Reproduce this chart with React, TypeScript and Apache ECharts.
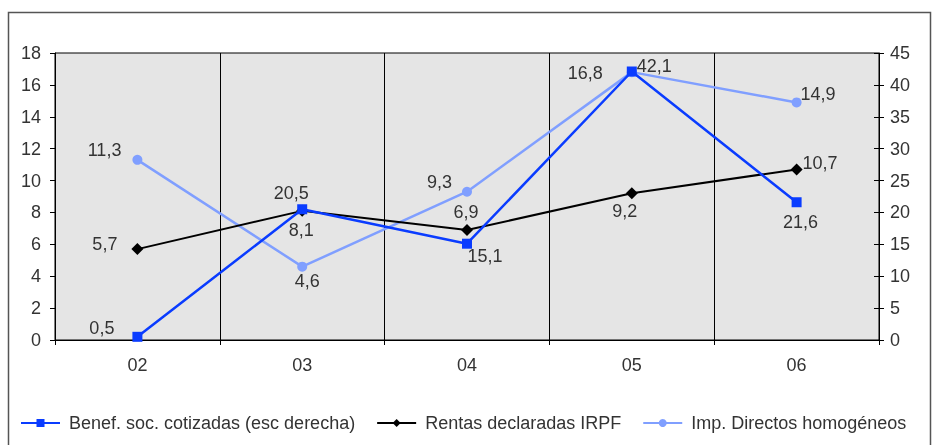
import React, { useEffect, useRef } from "react";
import * as echarts from "echarts";

const categories = ["02", "03", "04", "05", "06"];
const benefValues = [0.5, 20.5, 15.1, 42.1, 21.6];
const rentasValues = [5.7, 8.1, 6.9, 9.2, 10.7];
const impValues = [11.3, 4.6, 9.3, 16.8, 14.9];
const seriesNames = [
  "Benef. soc. cotizadas (esc derecha)",
  "Rentas declaradas IRPF",
  "Imp. Directos homogéneos",
];

// label placement per point: [position, offsetX, offsetY]
const benefLabelPos: [string, number, number][] = [
  ["left", -12, -9],
  ["top", -11, 4],
  ["bottom", 18, -8],
  ["right", -6, -5],
  ["bottom", 4, 0],
];
const rentasLabelPos: [string, number, number][] = [
  ["left", -8, -5],
  ["bottom", -1, -2],
  ["top", -1, 3],
  ["bottom", -7, -3],
  ["right", -6, -6],
];
const impLabelPos: [string, number, number][] = [
  ["left", -5, -10],
  ["bottom", 5, -6],
  ["left", -4, -10],
  ["left", -18, 1],
  ["right", -7, -8],
];

const FONT = "'Liberation Sans', Arial, sans-serif";
const TXT = "#333";
const FS = 18;

const fmt = (v: number) => v.toFixed(1).replace(".", ",");

function buildData(values: number[], pos: [string, number, number][]) {
  return values.map((v, i) => ({
    value: v,
    label: {
      position: pos[i][0],
      offset: [pos[i][1], pos[i][2]],
    },
  }));
}

export default function App() {
  const ref = useRef<HTMLDivElement>(null);
  useEffect(() => {
    if (!ref.current) return;
    const chart = echarts.init(ref.current, undefined, { renderer: "svg" });
    const labelBase = {
      show: true,
      fontSize: FS,
      fontFamily: FONT,
      color: TXT,
      distance: 6,
      formatter: (p: any) => fmt(p.value),
    };
    const axisLabelBase = { fontSize: FS, color: TXT, fontFamily: FONT };
    chart.setOption({
      animation: false,
      textStyle: { fontFamily: FONT },
      graphic: [
        {
          type: "rect",
          shape: { x: 8.5, y: 12.5, width: 922, height: 450 },
          style: { fill: "none", stroke: "#555", lineWidth: 1.5 },
          silent: true,
        },
      ],
      grid: {
        left: 55,
        right: 53,
        top: 53,
        bottom: 105,
        show: true,
        backgroundColor: "#e5e5e5",
        borderColor: "#000",
        borderWidth: 1,
        containLabel: false,
      },
      legend: {
        left: 15,
        top: 409,
        itemWidth: 39,
        itemHeight: 10,
        itemGap: 21,
        textStyle: {
          fontSize: FS,
          color: TXT,
          fontFamily: FONT,
          padding: [0, 0, 0, 4],
        },
        data: seriesNames,
      },
      xAxis: {
        type: "category",
        data: categories,
        boundaryGap: true,
        axisLine: { lineStyle: { color: "#000", width: 1 } },
        axisTick: { show: true, length: 5, lineStyle: { color: "#000" } },
        axisLabel: { ...axisLabelBase, margin: 16 },
        splitLine: { show: true, lineStyle: { color: "#000", width: 1 } },
      },
      yAxis: [
        {
          type: "value",
          min: 0,
          max: 18,
          interval: 2,
          position: "left",
          axisLine: { show: true, lineStyle: { color: "#000" } },
          axisTick: { show: true, length: 5, lineStyle: { color: "#000" } },
          axisLabel: { ...axisLabelBase, margin: 14 },
          splitLine: { show: false },
        },
        {
          type: "value",
          min: 0,
          max: 45,
          interval: 5,
          position: "right",
          axisLine: { show: true, lineStyle: { color: "#000" } },
          axisTick: { show: true, length: 5, lineStyle: { color: "#000" } },
          axisLabel: { ...axisLabelBase, margin: 11 },
          splitLine: { show: false },
        },
        {
          type: "value",
          min: 0,
          max: 45,
          interval: 5,
          position: "right",
          axisLine: { show: false },
          axisTick: {
            show: true,
            inside: true,
            length: 5,
            lineStyle: { color: "#000" },
          },
          axisLabel: { show: false },
          splitLine: { show: false },
        },
      ],
      series: [
        {
          name: seriesNames[0],
          type: "line",
          yAxisIndex: 1,
          z: 5,
          data: buildData(benefValues, benefLabelPos),
          symbol: "rect",
          symbolSize: 10,
          color: "#0a3cff",
          lineStyle: { width: 2.5, color: "#0a3cff" },
          itemStyle: { color: "#0a3cff" },
          label: labelBase,
        },
        {
          name: seriesNames[1],
          type: "line",
          yAxisIndex: 0,
          z: 4,
          data: buildData(rentasValues, rentasLabelPos),
          symbol: "diamond",
          symbolSize: 12,
          color: "#000",
          lineStyle: { width: 2, color: "#000" },
          itemStyle: { color: "#000" },
          label: labelBase,
        },
        {
          name: seriesNames[2],
          type: "line",
          yAxisIndex: 0,
          z: 3,
          data: buildData(impValues, impLabelPos),
          symbol: "circle",
          symbolSize: 10,
          color: "#809fff",
          lineStyle: { width: 2.5, color: "#809fff" },
          itemStyle: { color: "#809fff" },
          label: labelBase,
        },
      ],
    });
    return () => chart.dispose();
  }, []);
  return (
    <div
      ref={ref}
      style={{ position: "fixed", left: 0, top: 0, width: 932, height: 445 }}
    />
  );
}
